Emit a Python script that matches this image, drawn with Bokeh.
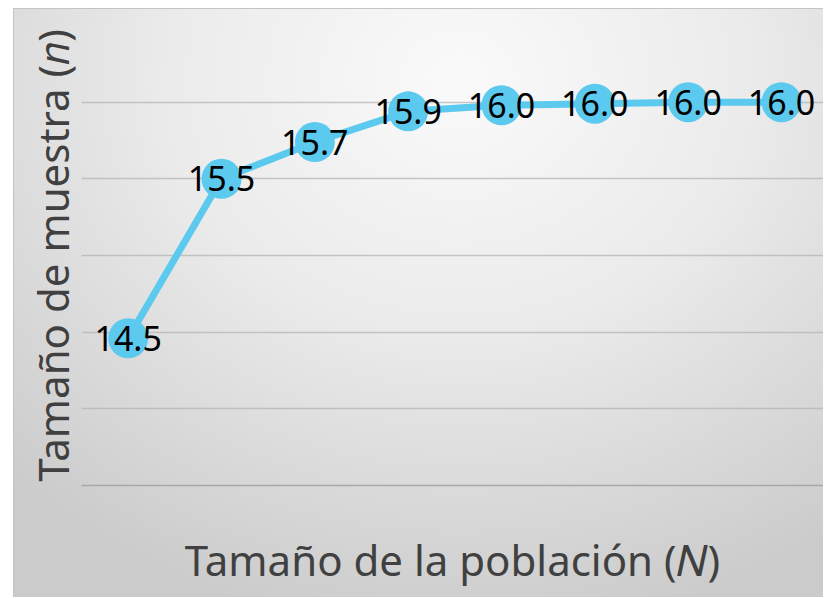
from bokeh.plotting import figure
from bokeh.models import Range1d, FixedTicker, ColumnDataSource
from bokeh.core.properties import value
from bokeh.embed import file_html
from bokeh.resources import INLINE

# ---- data ----
poblacion_idx = [1, 2, 3, 4, 5, 6, 7, 8]          # ordinal position of each population size N
tamano_muestra = [14.46, 15.50, 15.74, 15.94, 15.98, 15.99, 16.00, 16.00]
grid_ticks = [13.5, 14.0, 14.5, 15.0, 15.5, 16.0, 16.5]
x_title = "Tamaño de la población (𝑁)"
y_title = "Tamaño de muestra (𝑛)"

etiquetas = [f"{v:.1f}" for v in tamano_muestra]
src = ColumnDataSource(dict(x=poblacion_idx, y=tamano_muestra, lab=etiquetas))

BLUE = "#5CC9EE"
FONT = "Noto Sans"

p = figure(width=810, height=589, output_backend="svg", toolbar_location=None,
           x_range=Range1d(0.5, 8.45), y_range=Range1d(13.5, 16.5),
           min_border_left=68, min_border_right=0, min_border_top=17, min_border_bottom=112)

p.styles = {
    "margin-left": "13px",
    "margin-top": "8px",
    "background": "radial-gradient(ellipse 80% 95% at 55% 12%, #fafafa 0%, #ebebeb 45%, #cbcbcb 100%)",
    "box-shadow": "inset 1px 1px 0 #c4c4c4",
}
p.border_fill_alpha = 0
p.background_fill_alpha = 0
p.outline_line_color = None

# grid
p.xgrid.grid_line_color = None
p.ygrid.ticker = FixedTicker(ticks=grid_ticks)
p.ygrid.grid_line_color = "#b4b4b4"
p.ygrid.grid_line_alpha = 0.75
p.ygrid.grid_line_width = 1.5

# axes (no tick labels in the reference)
for ax in (p.xaxis[0], p.yaxis[0]):
    ax.ticker = FixedTicker(ticks=[])
    ax.major_label_standoff = 0
    ax.major_tick_line_color = None
    ax.minor_tick_line_color = None
    ax.axis_label_text_font = FONT
    ax.axis_label_text_font_style = "normal"
    ax.axis_label_text_color = "#404040"
    ax.axis_label_text_font_size = "42px"
p.yaxis[0].axis_line_color = None
p.xaxis[0].axis_line_color = "#a8a8a8"
p.xaxis[0].axis_line_width = 1.5
p.xaxis[0].axis_label = x_title
p.yaxis[0].axis_label = y_title
p.xaxis[0].axis_label_standoff = 45
p.yaxis[0].axis_label_standoff = 1

# series
p.line("x", "y", source=src, line_color=BLUE, line_width=7)
p.scatter("x", "y", source=src, size=40, fill_color=BLUE, line_color=None)
p.text("x", "y", text="lab", source=src, text_align="center", text_baseline="middle",
       text_font=value(FONT), text_font_size="34px", text_color="#000000")

open("out.html", "w").write(file_html(p, INLINE))
